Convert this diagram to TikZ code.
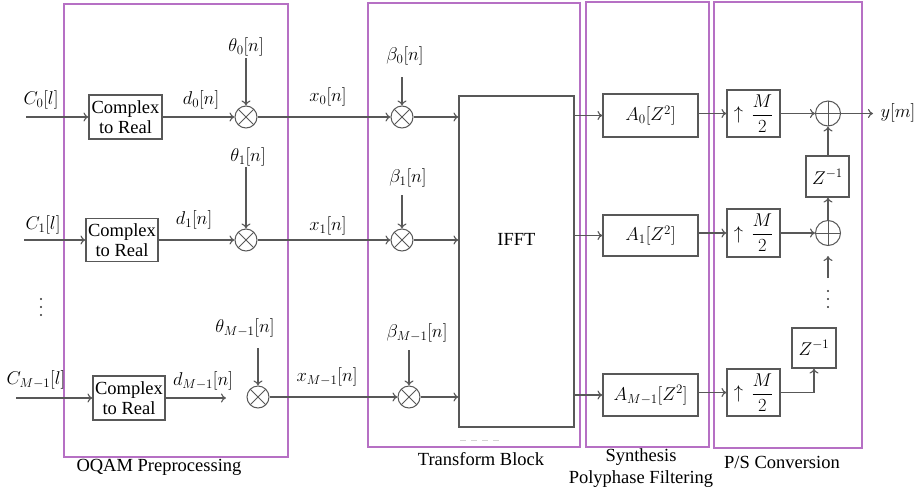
\RequirePackage{fix-cm}
\documentclass[tikz,border=0pt]{standalone}
\usepackage{amsmath}
\usepackage{fontspec}
\setmainfont{Liberation Serif}
\usetikzlibrary{arrows.meta}
\definecolor{frame}{RGB}{182,112,196}
\definecolor{ln}{RGB}{88,88,88}
\begin{document}
\begin{tikzpicture}[x=1pt,y=-1pt,
  every node/.style={font=\fontsize{18.5}{20}\selectfont},
  wire/.style={draw=ln, line width=1.1pt},
  arr/.style={wire,-{To[length=5pt,width=9pt]}},
  frm/.style={draw=frame, line width=1.1pt},
  blk/.style={draw=ln, line width=1.1pt, fill=white, inner sep=0pt, align=center},
  mult/.style={circle, draw=ln, line width=1pt, minimum size=22pt, inner sep=0pt,
    path picture={\draw[ln,line width=0.9pt] (path picture bounding box.north west) -- (path picture bounding box.south east) (path picture bounding box.north east) -- (path picture bounding box.south west);}},
  summ/.style={circle, draw=ln, line width=1pt, minimum size=25pt, inner sep=0pt,
    path picture={\draw[ln,line width=0.9pt] (path picture bounding box.north) -- (path picture bounding box.south) (path picture bounding box.east) -- (path picture bounding box.west);}},
  dotmark/.style={fill=black!80, circle, inner sep=0pt, minimum size=2.4pt},
]
\useasboundingbox (0,0) rectangle (920,493);

% frames
\draw[frm] (64,4) rectangle (288,457);
\draw[frm] (368,3) rectangle (580,447);
\draw[frm] (586,2) rectangle (709,447);
\draw[frm] (714,2) rectangle (862,448);

% frame labels
\node (lblA) at (159,467) {OQAM Preprocessing};
\node (lblB) at (481,459) {Transform Block};
\node[align=center, font=\fontsize{18.5}{22}\selectfont] (lblC) at (641,468) {Synthesis\\Polyphase Filtering};
\node (lblD) at (782,462) {P/S Conversion};

% OQAM preprocessing
\node[blk, minimum width=73pt, minimum height=44pt] (c0) at (125.5,117) {Complex\\to Real};
\node[blk, minimum width=72pt, minimum height=43pt] (c1) at (122,240) {Complex\\to Real};
\node[blk, minimum width=72pt, minimum height=44pt] (c2) at (129,398) {Complex\\to Real};

\coordinate (in0) at (26,117);
\coordinate (in1) at (24,240);
\coordinate (in2) at (16,398);
\node (C0) at (41,100) {$C_0[l]$};
\node (C1) at (43,225) {$C_1[l]$};
\node (C2) at (36,380) {$C_{M-1}[l]$};
\node[dotmark] (ld1) at (41,299) {};
\node[dotmark] (ld2) at (41,307) {};
\node[dotmark] (ld3) at (41,315) {};
\draw[arr] (in0) -- (c0.west);
\draw[arr] (in1) -- (c1.west);
\draw[arr] (in2) -- (c2.west);

\node[mult] (m0) at (246,117) {};
\node[mult] (m1) at (246,240) {};
\node[mult] (m2) at (258,397) {};
\coordinate (d2e) at (226,398);
\draw[arr] (c0.east) -- (m0.west);
\draw[arr] (c1.east) -- (m1.west);
\draw[arr] (c2.east) -- (d2e);
\node (d0) at (201,100) {$d_0[n]$};
\node (d1) at (194,220) {$d_1[n]$};
\node (d2) at (203,381) {$d_{M-1}[n]$};

\node (t0) at (246,47) {$\theta_0[n]$};
\node (t1) at (248,157) {$\theta_1[n]$};
\node (t2) at (245,328) {$\theta_{M-1}[n]$};
\coordinate (t0s) at (246,58);
\coordinate (t1s) at (246,167);
\coordinate (t2s) at (258,348);
\draw[arr] (t0s) -- (m0.north);
\draw[arr] (t1s) -- (m1.north);
\draw[arr] (t2s) -- (m2.north);

% transform block
\node[mult] (b0) at (402,117) {};
\node[mult] (b1) at (402,240) {};
\node[mult] (b2) at (409,397) {};
\draw[arr] (m0.east) -- (b0.west);
\draw[arr] (m1.east) -- (b1.west);
\draw[arr] (m2.east) -- (b2.west);
\node (x0) at (328,97) {$x_0[n]$};
\node (x1) at (328,226) {$x_1[n]$};
\node (x2) at (327,377) {$x_{M-1}[n]$};

\node (be0) at (405,56) {$\beta_0[n]$};
\node (be1) at (408,178) {$\beta_1[n]$};
\node (be2) at (417,333) {$\beta_{M-1}[n]$};
\coordinate (be0s) at (402,77);
\coordinate (be1s) at (402,195);
\coordinate (be2s) at (409,350);
\draw[arr] (be0s) -- (b0.north);
\draw[arr] (be1s) -- (b1.north);
\draw[arr] (be2s) -- (b2.north);

\node[blk, minimum width=115pt, minimum height=331pt, label={[yshift=22pt]center:IFFT}] (ifft) at (516.5,261.5) {};
\draw[arr] (b0.east) -- (b0.east -| ifft.west);
\draw[arr] (b1.east) -- (b1.east -| ifft.west);
\draw[arr] (b2.east) -- (b2.east -| ifft.west);
\draw[gray!35, line width=0.8pt, dash pattern=on 6pt off 5pt] (ifft.south west) ++(2,13) -- ++(42,0);

% synthesis polyphase filtering
\node[blk, minimum width=95pt, minimum height=43pt] (A0) at (650.5,115.5) {$A_0[Z^2]$};
\node[blk, minimum width=95pt, minimum height=41pt] (A1) at (650.5,235.5) {$A_1[Z^2]$};
\node[blk, minimum width=95pt, minimum height=42pt] (A2) at (650.5,395) {$A_{M-1}[Z^2]$};
\draw[arr] (ifft.east |- A0.west) -- (A0.west);
\draw[arr] (ifft.east |- A1.west) -- (A1.west);
\draw[arr] (ifft.east |- A2.west) -- (A2.west);

% P/S conversion
\node[blk, minimum width=53pt, minimum height=47pt] (u0) at (753.5,113.5) {$\uparrow\,\dfrac{M}{2}$};
\node[blk, minimum width=53pt, minimum height=48pt] (u1) at (753.5,233) {$\uparrow\,\dfrac{M}{2}$};
\node[blk, minimum width=53pt, minimum height=47pt] (u2) at (753.5,392.5) {$\uparrow\,\dfrac{M}{2}$};
\draw[arr] (A0.east |- u0.west) -- (u0.west);
\draw[arr] (A1.east |- u1.west) -- (u1.west);
\draw[arr] (A2.east |- u2.west) -- (u2.west);

\node[summ] (s0) at (828,113.5) {};
\node[summ] (s1) at (828,233) {};
\draw[arr] (u0.east) -- (s0.west);
\draw[arr] (u1.east) -- (s1.west);

\coordinate (yo) at (873,113.5);
\draw[arr] (s0.east) -- (yo);
\node (ym) at (898,113) {$y[m]$};

\node[blk, minimum width=43pt, minimum height=41pt] (z1) at (827.5,176.5) {$Z^{-1}$};
\draw[arr] (z1.north -| s0) -- (s0.south);
\draw[arr] (s1.north) -- (s1.north |- z1.south);

\coordinate (bt) at (828,278);
\draw[arr, shorten >=10pt] (bt) -- (s1.south);
\node[dotmark] (rd1) at (828,291) {};
\node[dotmark] (rd2) at (828,299) {};
\node[dotmark] (rd3) at (828,307) {};

\node[blk, minimum width=44pt, minimum height=40pt] (z2) at (814,348) {$Z^{-1}$};
\draw[arr] (u2.east) -| (z2.south);
\end{tikzpicture}
\end{document}
